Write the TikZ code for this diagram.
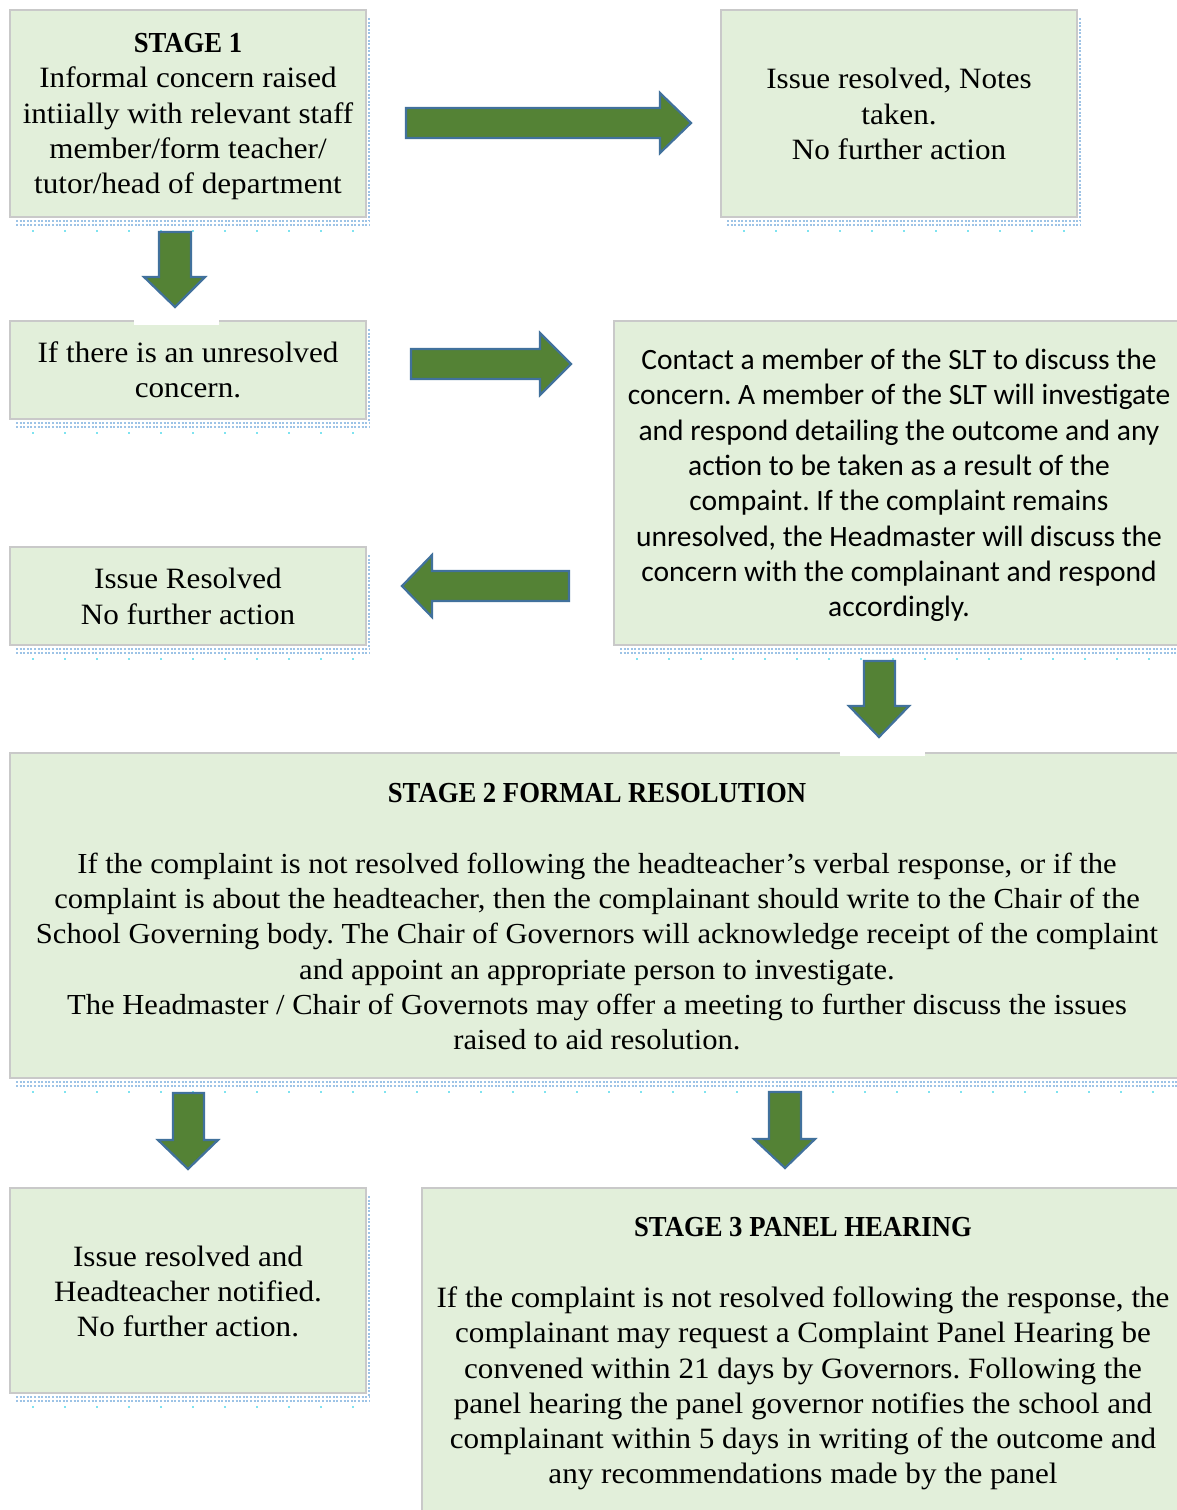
\documentclass[tikz,border=0pt]{standalone}
\usepackage{fontspec}
\setmainfont{Liberation Serif}[FakeStretch=1.055]
\newfontfamily\headfont{Liberation Serif}[FakeStretch=0.92]
\newfontfamily\calib{Carlito}
\definecolor{boxfill}{HTML}{E2EFDA}
\definecolor{boxline}{HTML}{C9C9C9}
\definecolor{arrfill}{HTML}{548235}
\definecolor{arrline}{HTML}{41719C}
\definecolor{shadowdot}{HTML}{9DC3E6}
\definecolor{shadowcyan}{HTML}{7FE3F0}
\tikzset{
  box/.style={draw=boxline, line width=2pt, fill=boxfill, inner sep=0pt, outer sep=0pt},
  txt/.style={align=center, inner sep=0pt, font=\frenchspacing\fontsize{29.5}{35.3}\selectfont},
  widetxt/.style={align=center, inner sep=0pt, font=\frenchspacing\fontsize{29}{35.3}\selectfont},
  headtxt/.style={inner sep=0pt, font=\headfont\bfseries\fontsize{29}{35.3}\selectfont},
  sltxt/.style={align=center, inner sep=0pt, font=\frenchspacing\calib\fontsize{29.5}{35.3}\selectfont},
  blockarrow/.style={fill=arrfill, draw=arrline, line width=2.2pt, line join=miter},
  dotshadow/.style={draw=shadowdot, line width=2pt, dash pattern=on 2pt off 1.6pt},
  sparseshadow/.style={draw=shadowcyan, line width=2pt, dash pattern=on 2pt off 30pt},
}
\begin{document}
\begin{tikzpicture}[x=1pt,y=-1pt]
\useasboundingbox[fill=white] (0,0) rectangle (1177,1510);

% shadows (dotted)
\foreach \l/\t/\r/\b in {10/10/366/217, 721/10/1077/217, 10/321/366/419, 614/321/1185/645, 10/547/366/645, 10/753/1185/1078, 10/1188/366/1393}{
  \draw[dotshadow] (\r+3,\t+8) -- (\r+3,\b+3);
  \draw[dotshadow] (\l+6,\b+4) -- (\r+3,\b+4);
  \draw[dotshadow] (\l+6,\b+8) -- (\r+3,\b+8);
  \draw[sparseshadow] (\l+22,\b+14) -- (\r+3,\b+14);
}

% boxes
\node[box, minimum width=356pt, minimum height=207pt] (s1) at (188,113.5) {};
\node[box, minimum width=356pt, minimum height=207pt] (r1) at (899,113.5) {};
\node[box, minimum width=356pt, minimum height=98pt] (un) at (188,370) {};
\node[box, minimum width=571pt, minimum height=324pt] (slt) at (899.5,483) {};
\node[box, minimum width=356pt, minimum height=98pt] (ir) at (188,596) {};
\node[box, minimum width=1175pt, minimum height=325pt] (s2) at (597.5,915.5) {};
\node[box, minimum width=356pt, minimum height=205pt] (ht) at (188,1290.5) {};
\node[box, minimum width=763pt, minimum height=332pt] (s3) at (803.5,1354) {};

% white gaps over top borders
\fill[white] (134,318) rectangle (219,325);
\fill[white] (840,750) rectangle (925,756);

% texts
\node[headtxt] (t1h) at (188,43) {STAGE 1};
\node[txt] (t1) at (188,133.5) {Informal concern raised\\intiially with relevant staff\\member/form teacher/\\tutor/head of department};
\node[txt] (t2) at (899,114) {Issue resolved, Notes\\taken.\\No further action};
\node[txt] (t3) at (188,369.5) {If there is an unresolved\\concern.};
\node[sltxt] (t4) at (899,485.5) {Contact a member of the SLT to discuss the\\concern. A member of the SLT will investigate\\and respond detailing the outcome and any\\action to be taken as a result of the\\compaint. If the complaint remains\\unresolved, the Headmaster will discuss the\\concern with the complainant and respond\\accordingly.};
\node[txt] (t5) at (188,596.5) {Issue Resolved\\No further action};
\node[headtxt] (t6h) at (597,793) {STAGE 2 FORMAL RESOLUTION};
\node[widetxt] (t6) at (597,951.5) {If the complaint is not resolved following the headteacher’s verbal response, or if the\\complaint is about the headteacher, then the complainant should write to the Chair of the\\School Governing body. The Chair of Governors will acknowledge receipt of the complaint\\and appoint an appropriate person to investigate.\\The Headmaster / Chair of Governots may offer a meeting to further discuss the issues\\raised to aid resolution.};
\node[txt] (t7) at (188,1291.5) {Issue resolved and\\Headteacher notified.\\No further action.};
\node[headtxt] (t8h) at (803,1227) {STAGE 3 PANEL HEARING};
\node[txt] (t8) at (803,1388.5) {If the complaint is not resolved following the response, the\\complainant may request a Complaint Panel Hearing be\\convened within 21 days by Governors. Following the\\panel hearing the panel governor notifies the school and\\complainant within 5 days in writing of the outcome and\\any recommendations made by the panel};

% block arrows
\draw[blockarrow] (406,108) -- (660,108) -- (660,93) -- (691,123) -- (660,153) -- (660,138) -- (406,138) -- cycle;
\draw[blockarrow] (159,232) -- (191,232) -- (191,277) -- (205,277) -- (175,307) -- (144,277) -- (159,277) -- cycle;
\draw[blockarrow] (411,349) -- (540,349) -- (540,333) -- (571,364) -- (540,395) -- (540,379) -- (411,379) -- cycle;
\draw[blockarrow] (569,571) -- (432,571) -- (432,555) -- (402,586) -- (432,617) -- (432,601) -- (569,601) -- cycle;
\draw[blockarrow] (864,661) -- (895,661) -- (895,706) -- (909,706) -- (879,737) -- (849,706) -- (864,706) -- cycle;
\draw[blockarrow] (173,1093) -- (204,1093) -- (204,1140) -- (218,1140) -- (188,1169) -- (158,1140) -- (173,1140) -- cycle;
\draw[blockarrow] (769,1092) -- (801,1092) -- (801,1139) -- (815,1139) -- (785,1168) -- (754,1139) -- (769,1139) -- cycle;
\end{tikzpicture}
\end{document}
